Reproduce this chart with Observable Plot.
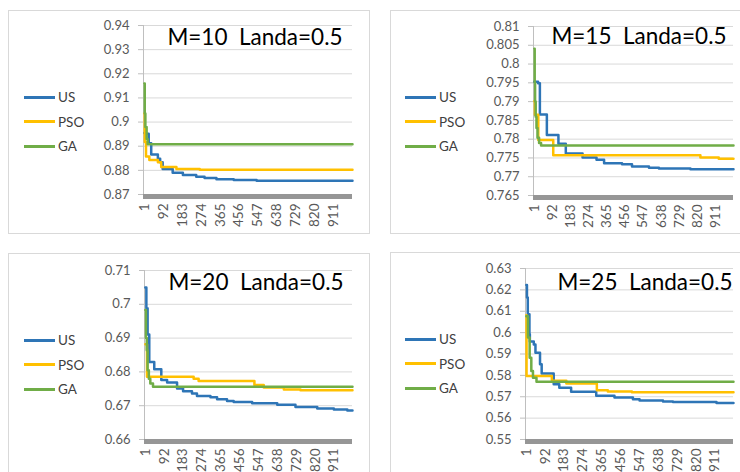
<!DOCTYPE html>
<html><head><meta charset="utf-8">
<script src="https://cdn.jsdelivr.net/npm/d3@7"></script>
<script src="https://cdn.jsdelivr.net/npm/@observablehq/plot@0.6"></script>
<style>
html,body{margin:0;padding:0;background:#fff;}
body{width:740px;height:472px;overflow:hidden;position:relative;font-family:Lato,"Open Sans",sans-serif;}
.panel{position:absolute;border:1px solid #d9d9d9;box-sizing:border-box;background:#fff;}
.chart{position:absolute;}
.legend{position:absolute;font-size:13.5px;color:#404040;}
.item{position:absolute;white-space:nowrap;}
.sw{position:absolute;width:31px;height:3px;}
.lab{position:absolute;left:34px;top:-9px;line-height:18px;}
</style></head>
<body>
<script>
// ---------- data ----------
const seriesNames = ["US", "PSO", "GA"];
const seriesColors = ["#2e75b6", "#ffc000", "#70ad47"];
const xTickLabels = [1, 92, 183, 274, 365, 456, 547, 638, 729, 820, 911];
const titles = ["M=10\u00a0 Landa=0.5", "M=15\u00a0 Landa=0.5", "M=20\u00a0 Landa=0.5", "M=25\u00a0 Landa=0.5"];

const yTicks10 = [0.87, 0.88, 0.89, 0.9, 0.91, 0.92, 0.93, 0.94];
const yTicks15 = [0.765, 0.77, 0.775, 0.78, 0.785, 0.79, 0.795, 0.8, 0.805, 0.81];
const yTicks20 = [0.66, 0.67, 0.68, 0.69, 0.7, 0.71];
const yTicks25 = [0.55, 0.56, 0.57, 0.58, 0.59, 0.6, 0.61, 0.62, 0.63];

// M=10
const m10_US_iter  = [1, 4, 22, 34, 66, 77, 89, 137, 186, 250, 290, 347, 430, 540, 1000];
const m10_US_val   = [0.8955, 0.8952, 0.8912, 0.8866, 0.8848, 0.8834, 0.8806, 0.8790, 0.8781, 0.8774, 0.8768, 0.8763, 0.8760, 0.8757, 0.8757];
const m10_PSO_iter = [1, 3, 9, 25, 66, 82, 155, 267, 1000];
const m10_PSO_val  = [0.9035, 0.8917, 0.8857, 0.8843, 0.8834, 0.8814, 0.8806, 0.8802, 0.8802];
const m10_GA_iter  = [1, 3, 6, 12, 17, 1000];
const m10_GA_val   = [0.9160, 0.9035, 0.8980, 0.8930, 0.8908, 0.8908];

// M=15
const m15_US_iter  = [1, 20, 29, 64, 122, 159, 243, 313, 351, 441, 491, 576, 626, 784, 1000];
const m15_US_val   = [0.7953, 0.7949, 0.7866, 0.7811, 0.7788, 0.7762, 0.7751, 0.7745, 0.7736, 0.7733, 0.7727, 0.7724, 0.7722, 0.7720, 0.7720];
const m15_PSO_iter = [1, 4, 21, 96, 834, 926, 1000];
const m15_PSO_val  = [0.7901, 0.7865, 0.7798, 0.7757, 0.7751, 0.7748, 0.7748];
const m15_GA_iter  = [1, 3, 5, 8, 12, 17, 25, 35, 1000];
const m15_GA_val   = [0.8041, 0.7950, 0.7900, 0.7860, 0.7830, 0.7804, 0.7790, 0.7783, 0.7783];

// M=20
const m20_US_iter  = [1, 6, 12, 20, 44, 78, 106, 154, 183, 226, 250, 315, 347, 395, 427, 516, 637, 725, 830, 910, 975, 1000];
const m20_US_val   = [0.7050, 0.6988, 0.6911, 0.6829, 0.6808, 0.6776, 0.6769, 0.6751, 0.6743, 0.6736, 0.6729, 0.6725, 0.6719, 0.6714, 0.6711, 0.6707, 0.6703, 0.6696, 0.6692, 0.6689, 0.6686, 0.6686];
const m20_PSO_iter = [1, 9, 234, 258, 527, 572, 669, 749, 1000];
const m20_PSO_val  = [0.6882, 0.6786, 0.6780, 0.6773, 0.6761, 0.6754, 0.6748, 0.6746, 0.6746];
const m20_GA_iter  = [1, 4, 8, 12, 18, 25, 38, 1000];
const m20_GA_val   = [0.6983, 0.6900, 0.6864, 0.6805, 0.6780, 0.6766, 0.6756, 0.6756];

// M=25
const m25_US_iter  = [1, 4, 8, 16, 18, 37, 45, 67, 75, 133, 160, 217, 338, 426, 515, 547, 660, 708, 918, 1000];
const m25_US_val   = [0.6223, 0.6164, 0.6086, 0.5992, 0.5958, 0.5945, 0.5906, 0.5852, 0.5809, 0.5758, 0.5742, 0.5723, 0.5705, 0.5697, 0.5688, 0.5683, 0.5678, 0.5675, 0.5671, 0.5671];
const m25_PSO_iter = [1, 2, 124, 194, 341, 394, 510, 1000];
const m25_PSO_val  = [0.6081, 0.5797, 0.5775, 0.5762, 0.5730, 0.5724, 0.5721, 0.5721];
const m25_GA_iter  = [1, 9, 17, 25, 33, 50, 1000];
const m25_GA_val   = [0.6077, 0.5977, 0.5883, 0.5820, 0.5789, 0.5770, 0.5770];

// ---------- layout ----------
const layout = [
  {border: [8, 10, 362, 224], plot: [143, 25, 209, 169], legend: [24, 97], tdx: -10, tdy: 4},
  {border: [390, 10, 360, 224], plot: [533, 26, 200, 169], legend: [405, 97], tdx: -7, tdy: 2},
  {border: [8, 253, 362, 230], plot: [144, 270, 208, 169], legend: [24, 340], tdx: -9, tdy: 4},
  {border: [390, 252, 360, 230], plot: [525, 268, 208, 171], legend: [405, 339], tdx: -1, tdy: 6}
];

const sets = [
  {yTicks: yTicks10, s: [[m10_US_iter, m10_US_val], [m10_PSO_iter, m10_PSO_val], [m10_GA_iter, m10_GA_val]]},
  {yTicks: yTicks15, s: [[m15_US_iter, m15_US_val], [m15_PSO_iter, m15_PSO_val], [m15_GA_iter, m15_GA_val]]},
  {yTicks: yTicks20, s: [[m20_US_iter, m20_US_val], [m20_PSO_iter, m20_PSO_val], [m20_GA_iter, m20_GA_val]]},
  {yTicks: yTicks25, s: [[m25_US_iter, m25_US_val], [m25_PSO_iter, m25_PSO_val], [m25_GA_iter, m25_GA_val]]}
];

const fmt = d => String(+d.toFixed(4));
const xMin = -3, xMax = 1000;
const mL = 55, mR = 10, mT = 12, mB = 42;

sets.forEach((set, k) => {
  const L = layout[k];
  const panel = document.createElement("div");
  panel.className = "panel";
  Object.assign(panel.style, {left: L.border[0] + "px", top: L.border[1] + "px", width: L.border[2] + "px", height: L.border[3] + "px"});
  document.body.appendChild(panel);

  const rows = [];
  set.s.forEach(([it, vals], j) => it.forEach((i, n) => rows.push({s: seriesNames[j], i, v: vals[n]})));
  const yt = set.yTicks;
  const chart = Plot.plot({
    width: L.plot[2] + mL + mR,
    height: L.plot[3] + mT + mB,
    marginLeft: mL, marginRight: mR, marginTop: mT, marginBottom: mB,
    style: {fontFamily: "Lato, 'Open Sans', sans-serif", fontSize: "13px", color: "#595959", background: "transparent", overflow: "visible"},
    x: {domain: [xMin, xMax]},
    y: {domain: [yt[0], yt[yt.length - 1]]},
    color: {domain: seriesNames, range: seriesColors},
    marks: [
      Plot.gridY(yt, {stroke: "#d9d9d9", strokeOpacity: 1}),
      Plot.ruleX([xMin], {stroke: "#bfbfbf"}),
      Plot.ruleY([yt[0]], {stroke: "#969696", strokeWidth: 5, dy: 2}),
      Plot.line(rows, {x: "i", y: "v", z: "s", stroke: "s", curve: "step-after", strokeWidth: 2.5}),
      Plot.axisY(yt, {tickFormat: fmt, tickSize: 5, tickPadding: 9, stroke: "#bfbfbf", fill: "#595959", label: null, fontSize: 13}),
      Plot.axisX(xTickLabels, {tickRotate: -90, tickSize: 0, tickPadding: 9, fill: "#595959", label: null, fontSize: 13.5}),
      Plot.text([titles[k]], {frameAnchor: "top-right", textAnchor: "end", lineAnchor: "top", dx: L.tdx, dy: L.tdy, fontSize: 22.5, fill: "#000"})
    ]
  });
  chart.classList.add("chart");
  Object.assign(chart.style, {left: (L.plot[0] - mL) + "px", top: (L.plot[1] - mT) + "px", position: "absolute"});
  document.body.appendChild(chart);

  const lg = document.createElement("div");
  lg.className = "legend";
  Object.assign(lg.style, {left: L.legend[0] + "px", top: L.legend[1] + "px"});
  seriesNames.forEach((name, j) => {
    const it = document.createElement("div");
    it.className = "item";
    it.style.top = (j * 24.7) + "px";
    const sw = document.createElement("div");
    sw.className = "sw";
    sw.style.background = seriesColors[j];
    sw.style.top = "-1.5px";
    const lab = document.createElement("div");
    lab.className = "lab";
    lab.textContent = name;
    it.appendChild(sw); it.appendChild(lab);
    lg.appendChild(it);
  });
  document.body.appendChild(lg);
});
</script>
</body></html>
